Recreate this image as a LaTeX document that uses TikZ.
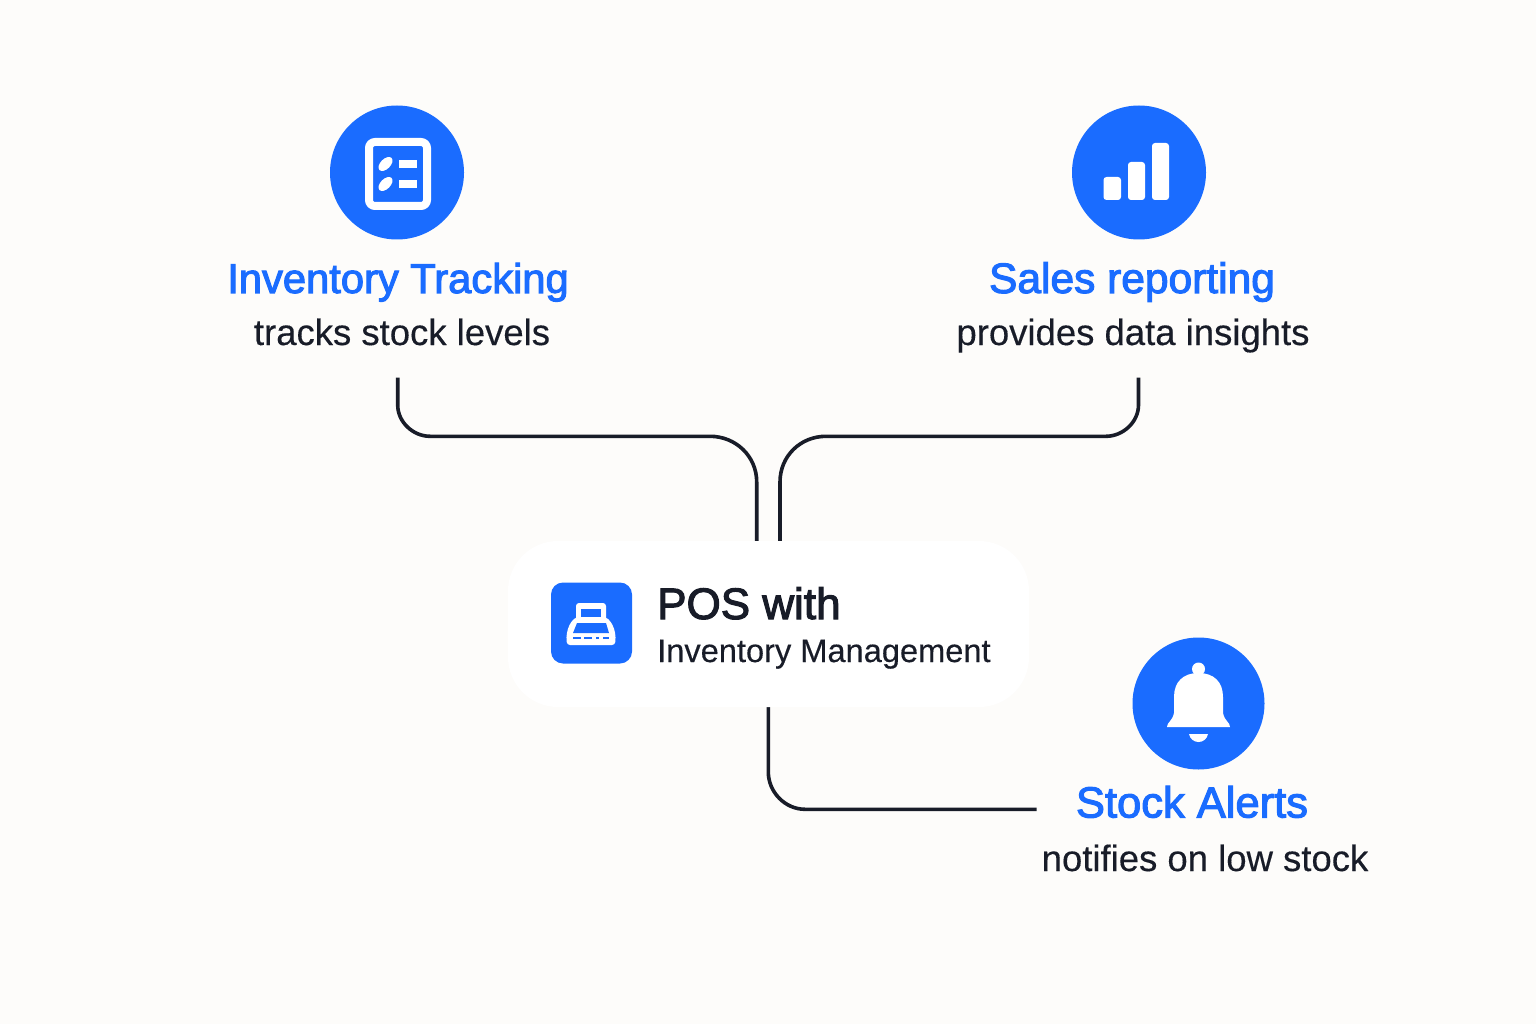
\documentclass[tikz,border=0pt]{standalone}
\usepackage{fontspec}
\setmainfont{Liberation Sans}
\newfontfamily\headfont[FakeBold=2.5]{Liberation Sans}
\newfontfamily\subfont[FakeBold=0.3]{Liberation Sans}
\usetikzlibrary{arrows}
\definecolor{bluefill}{RGB}{26,108,255}
\definecolor{inkdark}{RGB}{24,28,40}
\definecolor{pagefill}{RGB}{253,252,250}
\tikzset{
  linkline/.style={draw=inkdark,line width=3.6pt},
  iconcircle/.style={circle,fill=bluefill,inner sep=0pt},
  headtext/.style={text=bluefill,inner sep=0.75pt,font=\headfont\fontsize{#1}{48}\selectfont},
  subtext/.style={text=inkdark,inner sep=0.75pt,font=\subfont\fontsize{36.5}{42}\selectfont},
  whiteshape/.style={fill=white,draw=none},
}
\begin{document}
\begin{tikzpicture}[x=1pt,y=1pt,yscale=-1,xscale=1]
%page background
\fill [pagefill] (0,0) rectangle (1536,1024);
\useasboundingbox (0,0) rectangle (1536,1024);

%Free ends of the connectors
\coordinate (trackEnd) at (397.7,377.5);
\coordinate (salesEnd) at (1138.5,377.5);
\coordinate (alertEnd) at (1036.7,809.3);
\coordinate (posLeft) at (756.7,541);
\coordinate (posRight) at (780,541);
\coordinate (posBottom) at (768.3,706);

%Connectors
\draw [linkline] (trackEnd) -- (397.7,405) .. controls (397.7,422) and (413,436.3) .. (430,436.3) -- (710,436.3) .. controls (735.5,436.3) and (756.7,456) .. (756.7,482) -- (posLeft) ;
\draw [linkline] (salesEnd) -- (1138.5,405) .. controls (1138.5,422) and (1123,436.3) .. (1106,436.3) -- (826,436.3) .. controls (800.5,436.3) and (780,456) .. (780,482) -- (posRight) ;
\draw [linkline] (posBottom) -- (768.3,772) .. controls (768.3,792) and (785,809.3) .. (805,809.3) -- (alertEnd) ;

%Central card
\node (posCard) [fill=white,rounded corners=50pt,minimum width=521pt,minimum height=166pt,inner sep=0pt] at (768.5,624) {};
\node (posIcon) [fill=bluefill,rounded corners=12pt,minimum width=81pt,minimum height=81pt,inner sep=0pt] at (591.5,623) {};
\fill [whiteshape,rounded corners=3pt] (576,603) rectangle (606,622) ;
\fill [whiteshape,rounded corners=3pt] (576,617) -- (606,617) -- (611,622) .. controls (615,630) and (616,636) .. (615,645) -- (567,645) .. controls (566,636) and (567,630) .. (571,622) -- cycle ;
\fill [bluefill] (581,609) rectangle (601,617) ;
\fill [bluefill] (577,623) -- (606,623) -- (609,633) -- (573,633) -- cycle ;
\draw [bluefill,line width=1.5pt,dash pattern={on 8pt off 3pt on 8pt off 4pt on 3pt off 4pt on 8pt}] (573,638) -- (609,638) ;
\node (posTitle) [anchor=base west,text=inkdark,inner sep=0pt,font=\headfont\fontsize{44}{50}\selectfont] at (657,619) {POS with};
\node (posSub) [anchor=base west,text=inkdark,inner sep=0pt,font=\subfont\fontsize{32.6}{40}\selectfont] at (657,662) {Inventory Management};

%Inventory tracking
\node (trackIcon) [iconcircle,minimum size=134pt] at (397,172.5) {};
\draw [white,line width=8pt,rounded corners=6pt] (369,142) rectangle (427,206) ;
\fill [white,rotate around={-45:(385.5,164)}] (385.5,164) ellipse (8.5pt and 5pt) ;
\fill [white,rotate around={-45:(385.5,184)}] (385.5,184) ellipse (8.5pt and 5pt) ;
\fill [white] (399,160) rectangle (417,168) ;
\fill [white] (399,180) rectangle (417,188) ;
\node (trackHead) [headtext=41.7,anchor=base] at (398,293) {Inventory Tracking};
\node (trackSub) [subtext,anchor=base] at (402,345) {tracks stock levels};

%Sales reporting
\node (salesIcon) [iconcircle,minimum size=134pt] at (1139,172.5) {};
\fill [white,rounded corners=3pt] (1103.5,177) rectangle (1121,200) ;
\fill [white,rounded corners=3pt] (1128,162) rectangle (1145,200) ;
\fill [white,rounded corners=3pt] (1152,143) rectangle (1169,200) ;
\node (salesHead) [headtext=42.5,anchor=base] at (1132,293) {Sales reporting};
\node (salesSub) [subtext,anchor=base] at (1133,345) {provides data insights};

%Stock alerts
\node (alertIcon) [iconcircle,minimum size=132pt] at (1198.5,703.5) {};
\fill [white] (1198.5,669) circle (6.5pt) ;
\fill [white] (1167,727) .. controls (1167,722) and (1172,722) .. (1174,713) -- (1174,697) .. controls (1174,682) and (1183,673) .. (1198.5,673) .. controls (1214,673) and (1223,682) .. (1223,697) -- (1223,713) .. controls (1225,722) and (1230,722) .. (1230,727) -- cycle ;
\fill [white] (1189,734) -- (1208,734) .. controls (1207,739) and (1203,742) .. (1198.5,742) .. controls (1194,742) and (1190,739) .. (1189,734) -- cycle ;
\node (alertHead) [headtext=43.5,anchor=base] at (1192,817.5) {Stock Alerts};
\node (alertSub) [subtext,anchor=base] at (1205,871) {notifies on low stock};

\end{tikzpicture}
\end{document}
